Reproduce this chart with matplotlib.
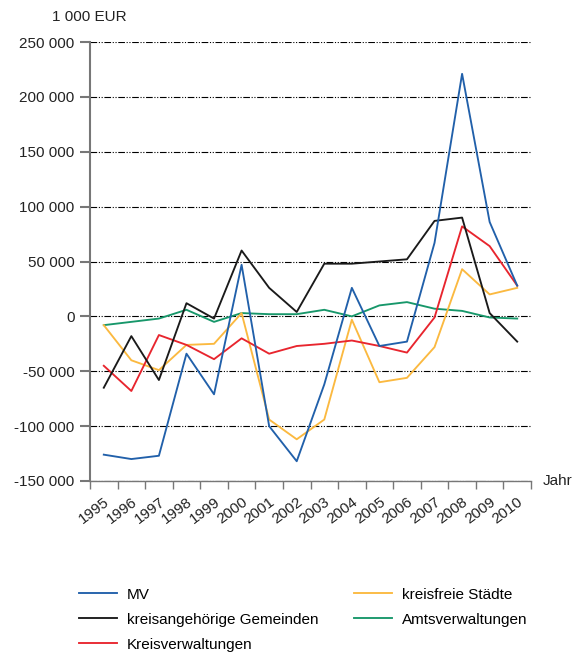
import numpy as np
import matplotlib.pyplot as plt

plt.rcParams['font.family'] = ['Liberation Sans', 'DejaVu Sans']

years = [str(y) for y in range(1995, 2011)]

# values in 1 000 EUR
mv = [-126, -130, -127, -34, -71, 47, -100, -132, -62, 26, -27, -23, 67, 221, 86, 28]
kreisangehoerige = [-65, -18, -58, 12, -2, 60, 26, 4, 48, 48, 50, 52, 87, 90, 3, -23]
kreisverwaltungen = [-45, -68, -17, -26, -39, -20, -34, -27, -25, -22, -27, -33, -1, 82, 64, 28]
kreisfreie = [-8, -40, -49, -26, -25, 3, -94, -112, -94, -3, -60, -56, -28, 43, 20, 26]
amtsverwaltungen = [-8, -5, -2, 6, -5, 3, 2, 2, 6, 0, 10, 13, 7, 5, -1, -2]

series = [
    ("MV", mv, "#2160aa"),
    ("kreisangehörige Gemeinden", kreisangehoerige, "#1a1a1a"),
    ("Kreisverwaltungen", kreisverwaltungen, "#e8252e"),
    ("kreisfreie Städte", kreisfreie, "#fbb940"),
    ("Amtsverwaltungen", amtsverwaltungen, "#17976a"),
]

fig = plt.figure(figsize=(5.81, 6.54), dpi=100)
ax = fig.add_axes([90 / 581, 1 - 481 / 654, 441 / 581, 439 / 654])

x = np.arange(len(years))
# draw order: yellow and green beneath
order = [4, 3, 2, 1, 0]
handles = {}
for i in order:
    name, vals, col = series[i]
    ln, = ax.plot(x, np.array(vals) * 1000, color=col, lw=1.35, label=name, zorder=3 + (4 - i) * 0.1)
    handles[name] = ln

ax.set_xlim(-0.5, len(years) - 0.5)
ax.set_ylim(-150000, 250000)
yt = np.arange(-150000, 250001, 50000)
ax.set_yticks(yt)
ax.set_yticklabels([f"{v:,}".replace(",", " ") for v in yt], fontsize=11, color="#222222")
for v in yt:
    ax.axhline(v, color="black", lw=0.8, ls=(0, (6, 1.5, 1, 1.5, 1, 1.5)), zorder=1)

ax.set_xticks(np.arange(-0.5, len(years)), labels=[])
ax.set_xticks(x, minor=True)
ax.set_xticklabels(years, minor=True, rotation=37, ha="right", rotation_mode="anchor", fontsize=11, color="#222222")
ax.tick_params(axis="x", which="major", length=6, color="#777777", width=1)
ax.tick_params(axis="x", which="minor", length=0, pad=10)
ax.tick_params(axis="y", length=7, color="#777777", width=1.5, pad=4)

for s in ["top", "right"]:
    ax.spines[s].set_visible(False)
ax.spines["left"].set_color("#777777")
ax.spines["left"].set_linewidth(1.5)
ax.spines["bottom"].set_color("#777777")
ax.spines["bottom"].set_linewidth(1)

fig.text(52 / 581, 1 - 17 / 654, "1 000 EUR", fontsize=11, va="center", ha="left", color="#222222")
fig.text(543 / 581, 1 - 481 / 654, "Jahr", fontsize=11, va="center", ha="left", color="#222222")

leg_order = ["MV", "kreisangehörige Gemeinden", "Kreisverwaltungen", "kreisfreie Städte", "Amtsverwaltungen"]
fig.legend([handles[n] for n in leg_order], leg_order, ncol=2, frameon=False, fontsize=11,
           loc="upper left", bbox_to_anchor=(65 / 581, 1 - 574 / 654),
           handlelength=2.5, handletextpad=0.65, columnspacing=2.3, labelspacing=0.72)

fig.savefig("out.png", dpi=100)
